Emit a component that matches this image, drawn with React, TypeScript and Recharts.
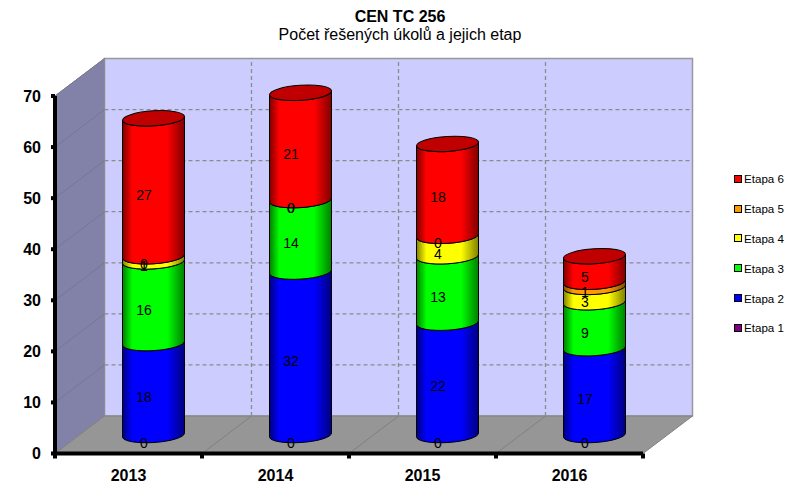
import { BarChart, Bar, XAxis, YAxis, CartesianGrid, LabelList, Legend } from 'recharts';

const YEARS = ['2013', '2014', '2015', '2016'];
const ETAPA_1 = [0, 0, 0, 0];
const ETAPA_2 = [18, 32, 22, 17];
const ETAPA_3 = [16, 14, 13, 9];
const ETAPA_4 = [1, 0, 4, 3];
const ETAPA_5 = [0, 0, 0, 1];
const ETAPA_6 = [27, 21, 18, 5];
const Y_TICKS = [0, 10, 20, 30, 40, 50, 60, 70];

const SERIES_NAMES = ['Etapa 1', 'Etapa 2', 'Etapa 3', 'Etapa 4', 'Etapa 5', 'Etapa 6'];
const SERIES_COLORS = ['#800080', '#0000ff', '#00ff00', '#ffff00', '#ff9900', '#ff0000'];
const EDGE_COLORS = ['#400040', '#000080', '#008000', '#808000', '#804d00', '#800000'];

const data = YEARS.map((year, i) => ({
  year,
  e1: ETAPA_1[i],
  e2: ETAPA_2[i],
  e3: ETAPA_3[i],
  e4: ETAPA_4[i],
  e5: ETAPA_5[i],
  e6: ETAPA_6[i],
}));
const KEYS = ['e1', 'e2', 'e3', 'e4', 'e5', 'e6'];

const FONT = 'Arial, "Liberation Sans", sans-serif';

// 3D box depth: front plane -> back wall
const DEPTH_X = 49.5;
const DEPTH_Y = 37.5;
// the cylinders stand half way into the box
const MID_X = 24.5;
const MID_Y = 18.5;
const RX = 31;
const RY = 7.5;
const TILT = -3.7;
const SKEW = 2;

// plot frame, same numbers as the chart margins below
const LEFT = 55;
const RIGHT = 643;
const TOP = 96;
const BOTTOM = 453.5;
const LEGEND_WIDTH = 60;

// sits under the chart svg, which is transparent
function Backdrop() {
  return (
    <svg width={803} height={498} style={{ position: 'absolute', left: 0, top: 0 }}>
      <defs>
        {SERIES_COLORS.map((c, i) => (
          <linearGradient key={c} id={`cyl${i}`} x1="0" y1="0" x2="1" y2="0">
            <stop offset="0" stopColor={EDGE_COLORS[i]} />
            <stop offset="0.16" stopColor={c} />
            <stop offset="0.72" stopColor={c} />
            <stop offset="1" stopColor={EDGE_COLORS[i]} />
          </linearGradient>
        ))}
      </defs>
      <text x={400} y={22} textAnchor="middle" fontFamily={FONT} fontSize={16} fontWeight="bold" fill="#000">
        CEN TC 256
      </text>
      <text x={400} y={40} textAnchor="middle" fontFamily={FONT} fontSize={16} fill="#000">
        Počet řešených úkolů a jejich etap
      </text>
      <rect
        x={LEFT + DEPTH_X}
        y={TOP - DEPTH_Y}
        width={RIGHT - LEFT}
        height={BOTTOM - TOP}
        fill="#ccccff"
        stroke="#999999"
        strokeWidth={1.5}
      />
      <polygon
        points={`${LEFT},${TOP} ${LEFT + DEPTH_X},${TOP - DEPTH_Y} ${LEFT + DEPTH_X},${BOTTOM - DEPTH_Y} ${LEFT},${BOTTOM}`}
        fill="#8282a8"
        stroke="#8c8c8c"
      />
      <polygon
        points={`${LEFT},${BOTTOM} ${RIGHT},${BOTTOM} ${RIGHT + DEPTH_X},${BOTTOM - DEPTH_Y} ${LEFT + DEPTH_X},${BOTTOM - DEPTH_Y}`}
        fill="#969696"
        stroke="#808080"
      />
    </svg>
  );
}

function GridH(props: any) {
  const { x1, x2, y1 } = props;
  if (y1 >= BOTTOM - 1) return <g key={props.key} />;
  return (
    <g key={props.key}>
      <line x1={x1} y1={y1} x2={x1 + DEPTH_X} y2={y1 - DEPTH_Y} stroke="#77778f" />
      {y1 > TOP + 1 && (
        <line
          x1={x1 + DEPTH_X}
          y1={y1 - DEPTH_Y}
          x2={x2 + DEPTH_X}
          y2={y1 - DEPTH_Y}
          stroke="#8c8c8c"
          strokeWidth={1.3}
          strokeDasharray="4 3"
        />
      )}
    </g>
  );
}

function GridV(props: any) {
  const { x1, key } = props;
  const inner = x1 > LEFT + 1 && x1 < RIGHT - 1;
  return (
    <g key={key}>
      <line x1={x1} y1={BOTTOM} x2={x1} y2={BOTTOM + 5} stroke="#000" strokeWidth={4} />
      {inner && (
        <>
          <line x1={x1} y1={BOTTOM} x2={x1 + DEPTH_X} y2={BOTTOM - DEPTH_Y} stroke="#808080" />
          <line
            x1={x1 + DEPTH_X}
            y1={BOTTOM - DEPTH_Y}
            x2={x1 + DEPTH_X}
            y2={TOP - DEPTH_Y}
            stroke="#8c8c8c"
            strokeWidth={1.3}
            strokeDasharray="4 3"
          />
        </>
      )}
    </g>
  );
}

// one piece of a tilted cylinder, Bar hands us the flat rectangle
function makeCylinder(index: number, capped: boolean) {
  return function Cylinder(props: any) {
    const { x, y, width, height } = props;
    if (!height || height <= 0) return <g />;
    const cx = x + width / 2 + MID_X;
    const top = y - MID_Y;
    const bottom = y + height - MID_Y;
    const l = cx - RX;
    const r = cx + RX;
    const d =
      `M${l},${bottom + SKEW} A${RX},${RY} ${TILT} 0 0 ${r},${bottom - SKEW} ` +
      `L${r},${top - SKEW} A${RX},${RY} ${TILT} 0 1 ${l},${top + SKEW} Z`;
    return (
      <g>
        <path d={d} fill={`url(#cyl${index})`} stroke="#000" strokeWidth={1} />
        {capped && (
          <ellipse
            cx={cx}
            cy={top}
            rx={RX}
            ry={RY}
            transform={`rotate(${TILT} ${cx} ${top})`}
            fill="#c00000"
            stroke="#000"
            strokeWidth={1}
          />
        )}
      </g>
    );
  };
}

function ValueLabel(props: any) {
  const { x, y, width, height, value } = props;
  return (
    <text
      x={x + width / 2 + 15}
      y={y + height / 2 - 11}
      textAnchor="middle"
      dominantBaseline="central"
      fontFamily={FONT}
      fontSize={14}
      fill="#000"
    >
      {value}
    </text>
  );
}

function LegendList() {
  const order = [5, 4, 3, 2, 1, 0];
  return (
    <div style={{ fontFamily: FONT, fontSize: 11.6, color: '#000' }}>
      {order.map((i) => (
        <div key={i} style={{ display: 'flex', alignItems: 'center', height: 29.8 }}>
          <span
            style={{
              display: 'inline-block',
              boxSizing: 'border-box',
              width: 8,
              height: 8,
              marginRight: 2,
              border: '1.5px solid #000',
              background: SERIES_COLORS[i],
            }}
          />
          {SERIES_NAMES[i]}
        </div>
      ))}
    </div>
  );
}

export default function App() {
  return (
    <div style={{ position: 'absolute', left: 0, top: 0, width: 803, height: 498 }}>
      <Backdrop />
      <div style={{ position: 'absolute', left: 0, top: 0 }}>
        <BarChart
          width={803}
          height={498}
          data={data}
          barSize={62}
          margin={{ top: TOP, right: 803 - RIGHT - LEGEND_WIDTH, bottom: 0, left: 5 }}
        >
          <CartesianGrid
            horizontal={GridH}
            vertical={GridV}
            verticalCoordinatesGenerator={() => [0, 1, 2, 3, 4].map((i) => LEFT + (i * (RIGHT - LEFT)) / 4)}
          />
          <XAxis
            dataKey="year"
            height={498 - BOTTOM}
            axisLine={{ stroke: '#000', strokeWidth: 4 }}
            tickLine={false}
            tickMargin={10}
            tick={{ fill: '#000', fontSize: 16, fontWeight: 'bold', fontFamily: FONT }}
          />
          <YAxis
            width={50}
            domain={[0, 70]}
            ticks={Y_TICKS}
            interval={0}
            axisLine={{ stroke: '#000', strokeWidth: 4 }}
            tickLine={{ stroke: '#000', strokeWidth: 4 }}
            tickSize={4}
            tickMargin={10}
            tick={{ fill: '#000', fontSize: 16, fontWeight: 'bold', fontFamily: FONT }}
          />
          <Legend
            layout="horizontal"
            verticalAlign="middle"
            align="right"
            content={<LegendList />}
            wrapperStyle={{
              left: 734,
              top: 164,
              width: LEGEND_WIDTH,
              height: 180,
              right: 'auto',
              bottom: 'auto',
              margin: 0,
            }}
          />
          {KEYS.map((k, i) => (
            <Bar
              key={k}
              dataKey={k}
              name={SERIES_NAMES[i]}
              stackId="a"
              fill={SERIES_COLORS[i]}
              isAnimationActive={false}
              shape={makeCylinder(i, k === 'e6')}
            >
              <LabelList dataKey={k} content={ValueLabel} />
            </Bar>
          ))}
        </BarChart>
      </div>
    </div>
  );
}
